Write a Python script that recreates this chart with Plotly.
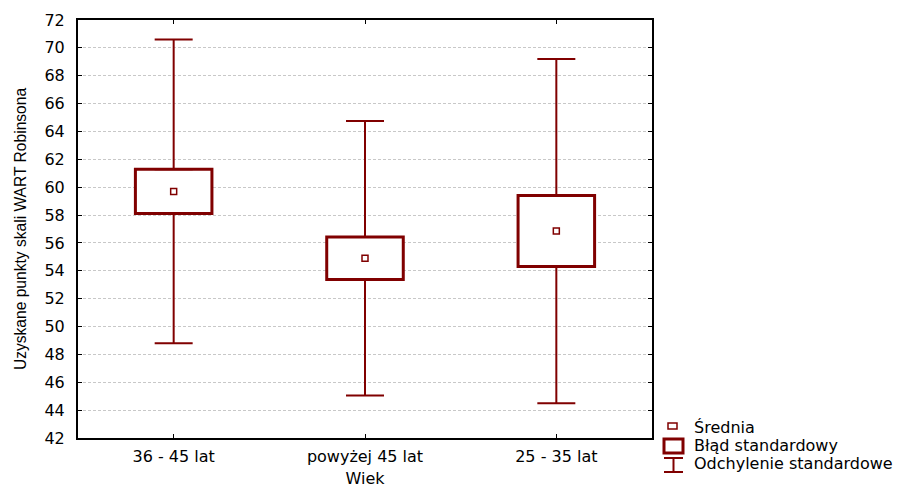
import plotly.graph_objects as go

categories = ["36 - 45 lat", "powyżej 45 lat", "25 - 35 lat"]
means = [59.7, 54.9, 56.85]
std_errors = [1.58, 1.53, 2.55]
std_devs = [10.9, 9.85, 12.35]

y_ticks = list(range(42, 73, 2))

legend_labels = ["Średnia", "Błąd standardowy", "Odchylenie standardowe"]

RED = "#800000"
TICK_FONT = dict(family="DejaVu Sans, Liberation Sans, Arial", size=16, color="black")

box_base = [m - s for m, s in zip(means, std_errors)]
box_height = [2 * s for s in std_errors]
upper_edge = [m + s for m, s in zip(means, std_errors)]
lower_edge = [m - s for m, s in zip(means, std_errors)]
whisker_len = [d - s for d, s in zip(std_devs, std_errors)]
zeros = [0 for _ in means]

fig = go.Figure()

# standard error boxes
fig.add_trace(go.Bar(
    x=categories, y=box_height, base=box_base, width=0.4,
    marker=dict(color="white", line=dict(color=RED, width=3)),
    showlegend=False, hoverinfo="skip",
))

# standard deviation whiskers (upper)
fig.add_trace(go.Scatter(
    x=categories, y=upper_edge, mode="markers",
    marker=dict(size=1, color="rgba(0,0,0,0)"),
    error_y=dict(type="data", symmetric=False, array=whisker_len, arrayminus=zeros,
                 width=19, thickness=2, color=RED),
    showlegend=False, hoverinfo="skip",
))
# standard deviation whiskers (lower)
fig.add_trace(go.Scatter(
    x=categories, y=lower_edge, mode="markers",
    marker=dict(size=1, color="rgba(0,0,0,0)"),
    error_y=dict(type="data", symmetric=False, array=zeros, arrayminus=whisker_len,
                 width=19, thickness=2, color=RED),
    showlegend=False, hoverinfo="skip",
))

# means
fig.add_trace(go.Scatter(
    x=categories, y=means, mode="markers",
    marker=dict(symbol="square-open", size=6, color=RED, line=dict(width=1.5, color=RED)),
    showlegend=False,
))

# manual legend
shape_common = dict(xref="paper", yref="paper", xsizemode="pixel", ysizemode="pixel",
                    xanchor=1, yanchor=0)
fig.add_shape(type="rect", x0=16, x1=25, y0=9, y1=15,
              line=dict(color=RED, width=1.5), fillcolor="white", **shape_common)
fig.add_shape(type="rect", x0=12, x1=31, y0=-1, y1=-15,
              line=dict(color=RED, width=3), fillcolor="white", **shape_common)
fig.add_shape(type="line", x0=21.5, x1=21.5, y0=-20, y1=-34,
              line=dict(color=RED, width=2), **shape_common)
fig.add_shape(type="line", x0=12, x1=31, y0=-20, y1=-20,
              line=dict(color=RED, width=2), **shape_common)
fig.add_shape(type="line", x0=12, x1=31, y0=-34, y1=-34,
              line=dict(color=RED, width=2), **shape_common)

for label, dy in zip(legend_labels, [11, -7, -25]):
    fig.add_annotation(text=label, xref="paper", yref="paper", x=1, y=0,
                       xanchor="left", yanchor="middle", xshift=40, yshift=dy,
                       showarrow=False, font=TICK_FONT)

# the page adds an 8px body margin, so the figure is 8px smaller than the window
fig.update_layout(
    width=916, height=480, autosize=False,
    margin=dict(l=70, r=272, t=12, b=50),
    paper_bgcolor="white", plot_bgcolor="white",
    showlegend=False,
    barmode="overlay",
)

fig.update_xaxes(
    type="category", range=[-0.5, 2.5], automargin=False,
    showline=True, linecolor="black", linewidth=2, mirror="ticks",
    ticks="inside", ticklen=4, tickcolor="black", tickwidth=1,
    showgrid=False, tickfont=TICK_FONT, ticklabelstandoff=3,
    title=dict(text="Wiek", font=TICK_FONT, standoff=18),
)
fig.update_yaxes(
    range=[42, 72], tickvals=y_ticks, ticktext=[str(v) for v in y_ticks],
    automargin=False,
    showline=True, linecolor="black", linewidth=2, mirror="ticks",
    ticks="inside", ticklen=4, tickcolor="black", tickwidth=1,
    showgrid=True, gridcolor="#c8c8c8", gridwidth=1, griddash="3px,2px",
    zeroline=False, tickfont=TICK_FONT, ticklabelstandoff=8,
    title=dict(text="Uzyskane punkty skali WART Robinsona",
               font=dict(family="Liberation Sans, Arial", size=15.6, color="black"),
               standoff=14),
)

fig.write_html("out.html")
